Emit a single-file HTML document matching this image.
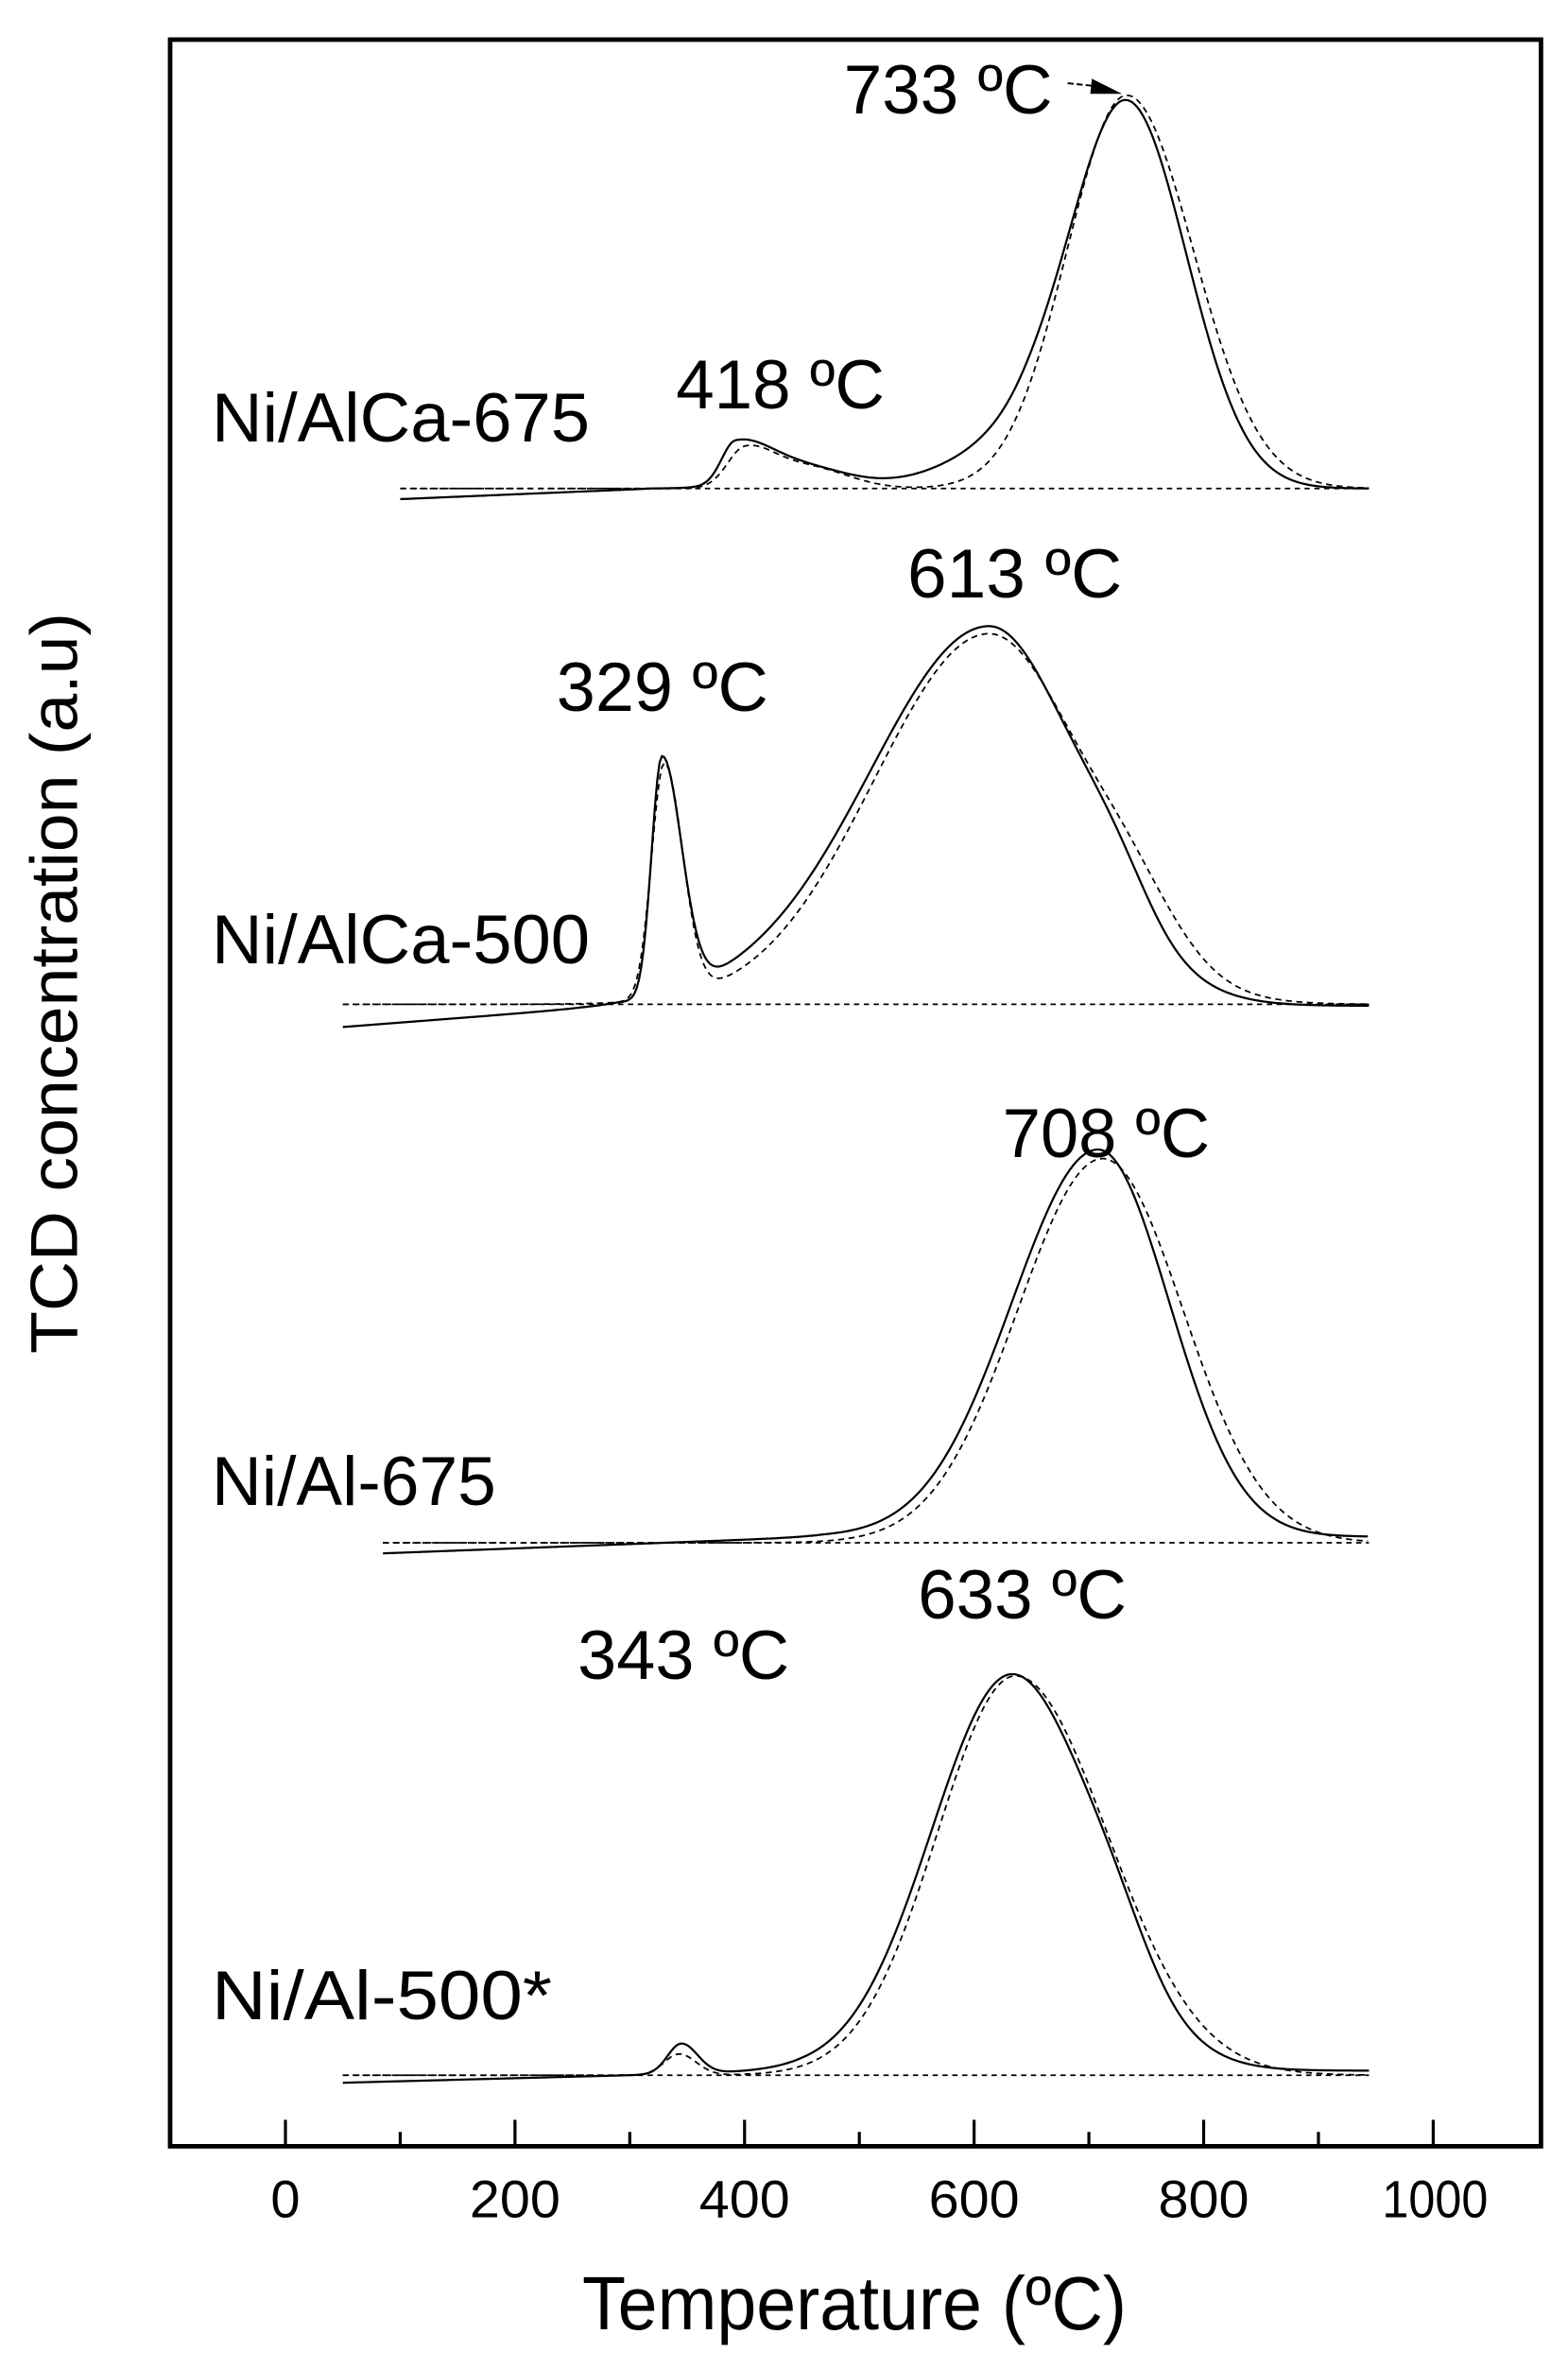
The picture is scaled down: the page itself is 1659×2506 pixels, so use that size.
<!DOCTYPE html>
<html><head><meta charset="utf-8"><style>
html,body{margin:0;padding:0;background:#fff;}
svg{display:block;}
text{font-family:"Liberation Sans",Arial,sans-serif;fill:#000;}
</style></head><body>
<svg id="s" width="1659" height="2506" viewBox="0 0 1036.875 1566.25" xmlns="http://www.w3.org/2000/svg">
<rect x="0" y="0" width="1036.875" height="1566.25" fill="#fff"/>
<rect x="112.5" y="26.2" width="906.5" height="1392.8" fill="none" stroke="#000" stroke-width="3"/>
<g stroke="#000" stroke-width="2">
<line x1="188.75" y1="1419" x2="188.75" y2="1401.5"/>
<line x1="264.65" y1="1419" x2="264.65" y2="1409.5"/>
<line x1="340.55" y1="1419" x2="340.55" y2="1401.5"/>
<line x1="416.45" y1="1419" x2="416.45" y2="1409.5"/>
<line x1="492.35" y1="1419" x2="492.35" y2="1401.5"/>
<line x1="568.25" y1="1419" x2="568.25" y2="1409.5"/>
<line x1="644.15" y1="1419" x2="644.15" y2="1401.5"/>
<line x1="720.05" y1="1419" x2="720.05" y2="1409.5"/>
<line x1="795.95" y1="1419" x2="795.95" y2="1401.5"/>
<line x1="871.85" y1="1419" x2="871.85" y2="1409.5"/>
<line x1="947.75" y1="1419" x2="947.75" y2="1401.5"/>
</g>
<g font-size="35" text-anchor="middle">
<text x="188.75" y="1466">0</text>
<text x="340.55" y="1466" textLength="60" lengthAdjust="spacingAndGlyphs">200</text>
<text x="492.35" y="1466" textLength="60" lengthAdjust="spacingAndGlyphs">400</text>
<text x="644.15" y="1466" textLength="60" lengthAdjust="spacingAndGlyphs">600</text>
<text x="795.95" y="1466" textLength="60" lengthAdjust="spacingAndGlyphs">800</text>
<text x="949" y="1466" textLength="70" lengthAdjust="spacingAndGlyphs">1000</text>
</g>
<text x="565" y="1540" font-size="50" text-anchor="middle" textLength="360" lengthAdjust="spacingAndGlyphs">Temperature (ºC)</text>
<text transform="translate(51,650) rotate(-90)" font-size="44" text-anchor="middle" textLength="490" lengthAdjust="spacingAndGlyphs">TCD concentration (a.u)</text>

<g font-size="46">
<text x="140" y="292" textLength="250" lengthAdjust="spacingAndGlyphs">Ni/AlCa-675</text>
<text x="140" y="637" textLength="250" lengthAdjust="spacingAndGlyphs">Ni/AlCa-500</text>
<text x="140" y="995" textLength="188" lengthAdjust="spacingAndGlyphs">Ni/Al-675</text>
<text x="140" y="1335" textLength="225" lengthAdjust="spacingAndGlyphs">Ni/Al-500*</text>
<text x="447" y="270" textLength="138" lengthAdjust="spacingAndGlyphs">418 ºC</text>
<text x="558" y="75" textLength="138" lengthAdjust="spacingAndGlyphs">733 ºC</text>
<text x="600" y="395" textLength="142" lengthAdjust="spacingAndGlyphs">613 ºC</text>
<text x="368" y="470" textLength="140" lengthAdjust="spacingAndGlyphs">329 ºC</text>
<text x="663" y="765" textLength="137" lengthAdjust="spacingAndGlyphs">708 ºC</text>
<text x="607" y="1070" textLength="138" lengthAdjust="spacingAndGlyphs">633 ºC</text>
<text x="382" y="1110" textLength="140" lengthAdjust="spacingAndGlyphs">343 ºC</text>
</g>
<line x1="706" y1="55" x2="725" y2="57" stroke="#000" stroke-width="1.2" stroke-dasharray="4 2"/>
<polygon points="722,52 742,62 721,62" fill="#000"/>
<g id="curves" fill="none" stroke="#000"></g>
</svg>
<script>
(function(){
var X=function(T){return 188.75+0.759*T;};
function G(T,c,h,sl,sr){var s=T<c?sl:(sr||sl);var d=(T-c)/s;return h*Math.exp(-0.5*d*d);}
function build(t0,t1,f){var p=[];for(var T=t0;T<=t1;T+=2){p.push((p.length?'L':'M')+X(T).toFixed(2)+','+f(T).toFixed(2));}return p.join(' ');}
function bl(T,tA,yA,tB,yB){if(T>=tB)return yB;return yA+(yB-yA)*(T-tA)/(tB-tA);}
var curves=[
 {y0:323,t0:100,
  solid:function(T){return bl(T,100,330,320,323)-(G(T,392,27,12,30)+G(T,450,14,40,40)+G(T,640,28,60,40)+G(T,733,255,50,52));},
  dash:function(T){return 323-(G(T,400,24,15,25)+G(T,455,14,35,35)+G(T,733,260,52,58));}},
 {y0:664,t0:50,
  solid:function(T){return bl(T,50,679,290,665)-(G(T,328,158,9,17)+G(T,613,251,105,80)+G(T,725,22,30,30)+G(T,400,4,40,60));},
  dash:function(T){return 664-(G(T,330,155,11,16)+G(T,613,245,100,85)+G(T,740,25,35,40));}},
 {y0:1020,t0:85,
  solid:function(T){return bl(T,85,1027,470,1016)-G(T,708,256,75,62);},
  dash:function(T){return 1020-G(T,712,254,74,70);}},
 {y0:1372,t0:50,
  solid:function(T){return bl(T,50,1377,450,1369)-(G(T,345,20,12,14)+G(T,633,262,70,72)+G(T,725,18,30,30));},
  dash:function(T){return 1372-(G(T,343,14,13,15)+G(T,636,264,68,80));}}
];
var g=document.getElementById('curves');var ns='http://www.w3.org/2000/svg';
curves.forEach(function(c){
 var b=document.createElementNS(ns,'line');b.setAttribute('x1',X(c.t0));b.setAttribute('x2',X(944));
 b.setAttribute('y1',c.y0);b.setAttribute('y2',c.y0);b.setAttribute('stroke-width','1.1');b.setAttribute('stroke-dasharray','3.5 3');g.appendChild(b);
 var d=document.createElementNS(ns,'path');d.setAttribute('d',build(c.t0,944,c.dash));d.setAttribute('stroke-width','1.1');d.setAttribute('stroke-dasharray','4 3');g.appendChild(d);
 var s=document.createElementNS(ns,'path');s.setAttribute('d',build(c.t0,944,c.solid));s.setAttribute('stroke-width','1.4');g.appendChild(s);
});
})();
</script>
</body></html>
